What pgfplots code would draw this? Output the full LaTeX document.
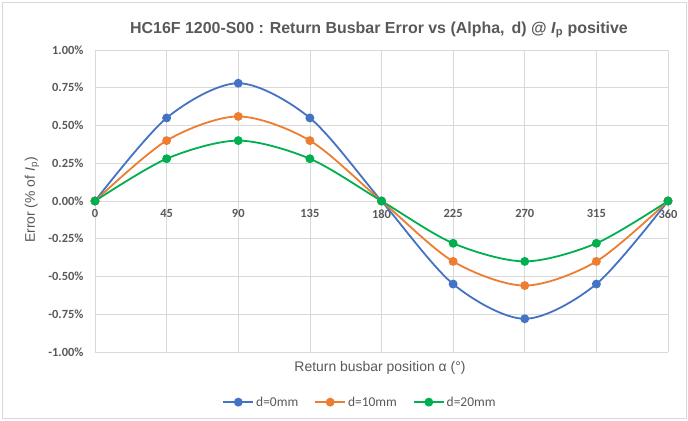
\documentclass[border=0pt]{standalone}
\usepackage{fontspec}
\setmainfont{Carlito}
\newfontfamily\titlefont{Liberation Sans}
\usepackage{pgfplots}
\pgfplotsset{compat=1.18}
\definecolor{cblue}{HTML}{4472C4}
\definecolor{corange}{HTML}{ED7D31}
\definecolor{cgreen}{HTML}{00B050}
\definecolor{txt}{HTML}{595959}
\definecolor{grd}{HTML}{D9D9D9}
\begin{document}
\begin{tikzpicture}[x=1bp,y=1bp]
\fill[white] (0,0) rectangle (688,420);
\draw[grd, line width=0.75bp] (2,2) rectangle (686,418);
\begin{axis}[
  scale only axis, width=573bp, height=302bp,
  at={(95bp,68bp)}, anchor=south west,
  xmin=0, xmax=360, ymin=-1, ymax=1,
  axis x line=middle, axis y line=left,
  hide obscured x ticks=false,
  axis line style={grd, line width=0.75bp, -},
  xtick={0,45,90,135,180,225,270,315,360},
  xticklabels={0,45,90,135,180,225,270,315,360},
  ytick={-1,-0.75,-0.5,-0.25,0,0.25,0.5,0.75,1},
  yticklabels={-1.00\%,-0.75\%,-0.50\%,-0.25\%,0.00\%,0.25\%,0.50\%,0.75\%,1.00\%},
  major tick length=0pt,
  grid=major, grid style={grd, line width=0.75bp},
  tick label style={font=\fontsize{12.5}{14}\selectfont\bfseries, text=txt},
  xticklabel style={yshift=-5bp},
  yticklabel style={xshift=-8bp},
  legend style={at={(0.4625,-0.166)}, anchor=center, draw=none, fill=none,
    legend columns=3, font=\fontsize{13.5}{15}\selectfont, text=txt,
    /tikz/every even column/.append style={column sep=14bp}},
  legend image code/.code={
    \draw[#1, mark repeat=2, mark phase=2] plot coordinates {(0bp,0bp) (15bp,0bp) (30bp,0bp)};},
  clip=false,
]
\addplot[cblue, line width=1.8bp, smooth, mark=*, mark size=3.5bp, mark options={fill=cblue}] coordinates {
 (0,0) (45,0.55) (90,0.78) (135,0.55) (180,0) (225,-0.55) (270,-0.78) (315,-0.55) (360,0)};
\addlegendentry{d=0mm}
\addplot[corange, line width=1.8bp, smooth, mark=*, mark size=3.5bp, mark options={fill=corange}] coordinates {
 (0,0) (45,0.40) (90,0.56) (135,0.40) (180,0) (225,-0.40) (270,-0.56) (315,-0.40) (360,0)};
\addlegendentry{d=10mm}
\addplot[cgreen, line width=1.8bp, smooth, mark=*, mark size=3.5bp, mark options={fill=cgreen}] coordinates {
 (0,0) (45,0.28) (90,0.40) (135,0.28) (180,0) (225,-0.28) (270,-0.40) (315,-0.28) (360,0)};
\addlegendentry{d=20mm}
\end{axis}
\node[text=txt, font=\titlefont\fontsize{16}{19}\selectfont\bfseries] at (379,390)
  {HC16F 1200-S00 : Return Busbar Error vs (Alpha,\, d) @ \textit{I}\textsubscript{p} positive};
\node[text=txt, font=\titlefont\fontsize{14}{16}\selectfont] at (380,52) {Return busbar position α (°)};
\node[text=txt, font=\titlefont\fontsize{14}{16}\selectfont, rotate=90] at (32,220) {Error (\% of \textit{I}\textsubscript{p})};
\end{tikzpicture}
\end{document}
